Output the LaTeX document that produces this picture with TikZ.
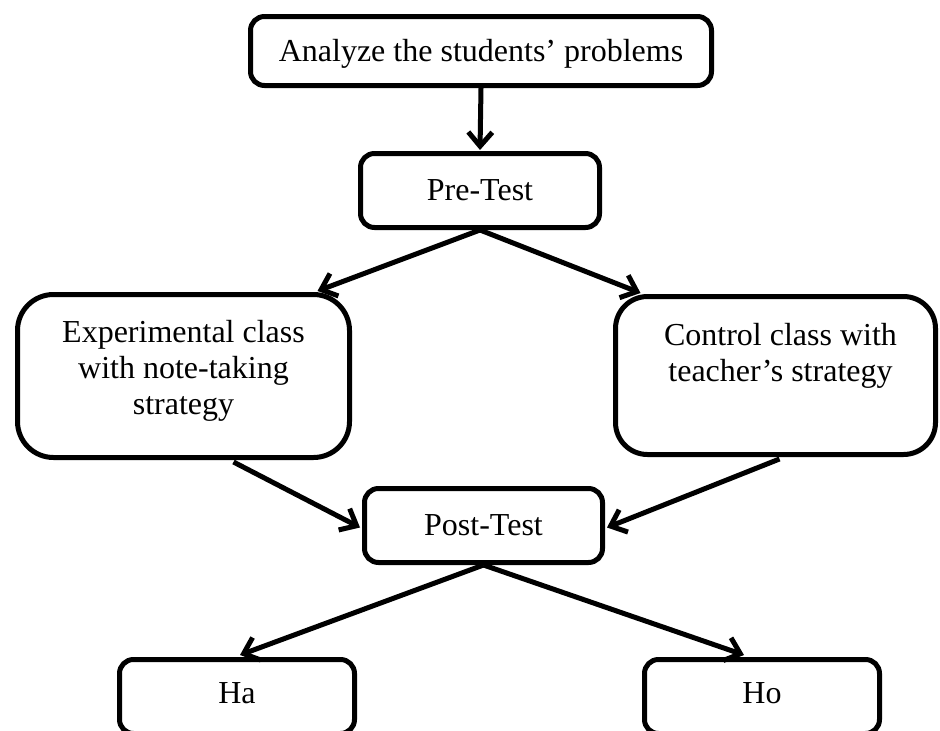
\documentclass[tikz,border=0pt]{standalone}
\usepackage{fontspec}
\setmainfont{Liberation Serif}
\usetikzlibrary{arrows.meta,calc,shadows}
\begin{document}
\begin{tikzpicture}[x=1pt,y=-1pt,
  box/.style={draw=black,line width=5pt,fill=white,rounded corners=#1,inner sep=0pt,
    drop shadow={shadow xshift=2pt,shadow yshift=-2pt,opacity=0.25,fill=gray}},
  box/.default=14pt,
  txt/.style={font=\fontsize{32}{36}\selectfont,align=center,inner sep=0pt},
  arr/.style={line width=5pt,-{Straight Barb[length=14pt,width=24pt,line width=5pt]}}]
\useasboundingbox (0,0) rectangle (940,731);
\begin{scope}
\clip (0,0) rectangle (940,731);
% boxes
\node[box,minimum width=461pt,minimum height=69pt] (top) at (481,51) {};
\node[box,minimum width=239pt,minimum height=74pt] (pre) at (480,190.5) {};
\node[box=36pt,minimum width=332pt,minimum height=163pt] (exp) at (183.5,376) {};
\node[box=32pt,minimum width=320pt,minimum height=158pt] (ctl) at (775.5,375.5) {};
\node[box,minimum width=238pt,minimum height=74pt] (post) at (483.5,525.5) {};
\node[box,minimum width=235pt,minimum height=74pt] (ha) at (237,696.5) {};
\node[box,minimum width=235pt,minimum height=74pt] (ho) at (762,696.5) {};
% texts
\node[txt] (topt) at ($(top.center)+(0,3)$) {Analyze the students’ problems};
\node[txt] (pret) at (pre.center) {Pre-Test};
\node[txt,anchor=north] (expt) at ($(exp.north)+(0,28)$) {Experimental class\\with note-taking\\strategy};
\node[txt,anchor=north] (ctlt) at ($(ctl.north)+(5,29)$) {Control class with\\teacher’s strategy};
\node[txt] (postt) at (post.center) {Post-Test};
\node[txt] (hat) at ($(ha.center)+(0,-3)$) {Ha};
\node[txt] (hot) at ($(ho.center)+(0,-3)$) {Ho};
% connectors
\draw[arr] (top.south) -- ($(pre.north)+(0,-1)$);
\draw[arr] (pre.south) -- ($(exp.north)+(134,-1)$);
\draw[arr] (pre.south) -- ($(ctl.north)+(-135,-1)$);
\draw[arr] ($(exp.south)+(50,2)$) -- ($(post.west)+(-2,2)$);
\draw[arr] ($(ctl.south)+(4,2)$) -- ($(post.east)+(2,2)$);
\draw[arr] (post.south) -- ($(ha.north)+(3,-2)$);
\draw[arr] (post.south) -- ($(ho.north)+(-18,-2)$);
\end{scope}
\end{tikzpicture}
\end{document}
